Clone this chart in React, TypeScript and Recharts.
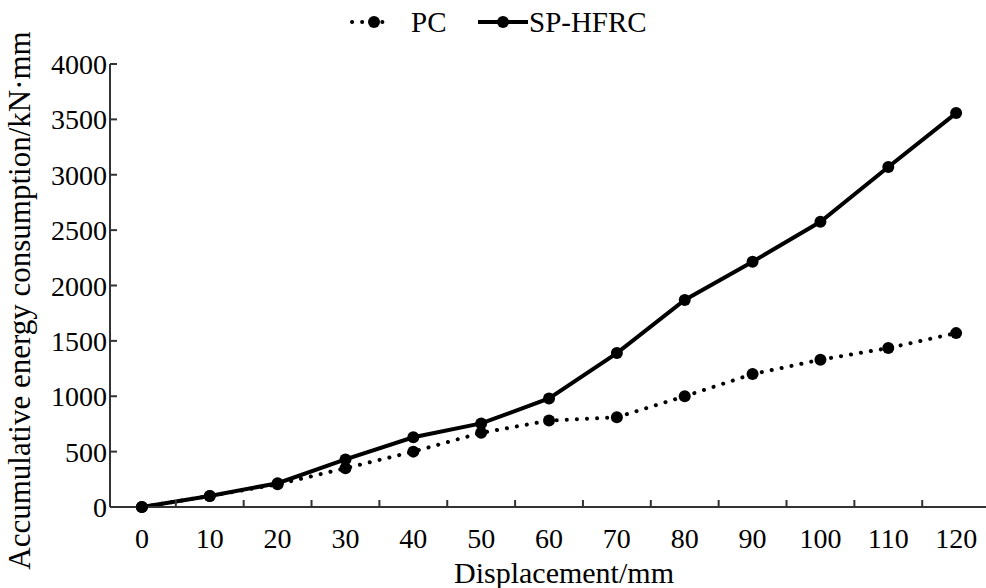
import { LineChart, Line, XAxis, YAxis } from 'recharts';

const displacement = [0, 10, 20, 30, 40, 50, 60, 70, 80, 90, 100, 110, 120];
const pcEnergy = [0, 100, 205, 350, 500, 670, 780, 810, 1000, 1200, 1330, 1435, 1570];
const sphfrcEnergy = [0, 100, 215, 430, 630, 755, 980, 1390, 1870, 2215, 2575, 3070, 3557];

const xLabelTicks = [0, 10, 20, 30, 40, 50, 60, 70, 80, 90, 100, 110, 120];
const xMarkTicks = [5, 15, 25, 35, 45, 55, 65, 75, 85, 95, 105, 115];
const yTicks = [0, 500, 1000, 1500, 2000, 2500, 3000, 3500, 4000];

const data = displacement.map((d, i) => ({
  d,
  pc: pcEnergy[i],
  sp: sphfrcEnergy[i],
}));

const FONT = '"Liberation Serif", "Times New Roman", serif';
const INK = '#000';
const AXIS = '#333';

function XTick(props: any) {
  const { x, y, payload } = props;
  const v = payload.value;
  if (xLabelTicks.includes(v)) {
    return (
      <text x={x} y={y + 41} textAnchor="middle" fontFamily={FONT} fontSize={28} fill={INK}>
        {v}
      </text>
    );
  }
  return <line x1={x} y1={y} x2={x} y2={y - 7} stroke={AXIS} strokeWidth={2} />;
}

function YTick(props: any) {
  const { x, y, payload } = props;
  return (
    <g>
      <text x={x - 3} y={y + 10} textAnchor="end" fontFamily={FONT} fontSize={28} fill={INK}>
        {payload.value}
      </text>
      <line x1={x} y1={y} x2={x + 7} y2={y} stroke={AXIS} strokeWidth={2} />
    </g>
  );
}

function LegendBar() {
  return (
    <svg width={986} height={45} style={{ position: 'absolute', left: 0, top: 0 }}>
      <line x1={352} y1={22} x2={390} y2={22} stroke={INK} strokeWidth={4} strokeLinecap="round" strokeDasharray="0.1 10" />
      <circle cx={374} cy={22} r={6} fill={INK} />
      <text x={411} y={32} fontFamily={FONT} fontSize={29} fill={INK}>PC</text>
      <line x1={478} y1={22} x2={528} y2={22} stroke={INK} strokeWidth={4} />
      <circle cx={503} cy={22} r={6} fill={INK} />
      <text x={529} y={32} fontFamily={FONT} fontSize={29} fill={INK}>SP-HFRC</text>
    </svg>
  );
}

export default function App() {
  return (
    <div style={{ position: 'absolute', left: 0, top: 0, width: 986, height: 588, background: '#fff' }}>
      <LineChart width={986} height={588} data={data} margin={{ top: 64, right: 0, bottom: 0, left: 30 }}>
        <XAxis
          dataKey="d"
          type="number"
          domain={[-4.7, 124.4]}
          allowDataOverflow
          ticks={[...xLabelTicks, ...xMarkTicks]}
          interval={0}
          height={81}
          tickSize={0}
          tickMargin={0}
          tickLine={false}
          axisLine={{ stroke: AXIS, strokeWidth: 2 }}
          tick={<XTick />}
          label={{
            value: 'Displacement/mm',
            position: 'insideBottom',
            dx: 16,
            offset: 5,
            fontFamily: FONT,
            fontSize: 30,
            fill: INK,
          }}
        />
        <YAxis
          type="number"
          domain={[0, 4000]}
          ticks={yTicks}
          interval={0}
          width={80}
          tickSize={0}
          tickMargin={0}
          tickLine={false}
          axisLine={{ stroke: AXIS, strokeWidth: 2 }}
          tick={<YTick />}
          label={{
            value: 'Accumulative energy consumption/kN·mm',
            angle: -90,
            position: 'insideLeft',
            dx: -16,
            dy: 15,
            style: { textAnchor: 'middle' },
            fontFamily: FONT,
            fontSize: 31,
            fill: INK,
          }}
        />
        <Line
          dataKey="pc"
          stroke={INK}
          strokeWidth={4}
          strokeLinecap="round"
          strokeDasharray="0.1 10"
          dot={{ r: 6, fill: INK, stroke: INK, strokeWidth: 0, strokeDasharray: '' }}
          isAnimationActive={false}
        />
        <Line
          dataKey="sp"
          stroke={INK}
          strokeWidth={4}
          dot={{ r: 6, fill: INK, stroke: INK, strokeWidth: 0 }}
          isAnimationActive={false}
        />
      </LineChart>
      <LegendBar />
    </div>
  );
}
